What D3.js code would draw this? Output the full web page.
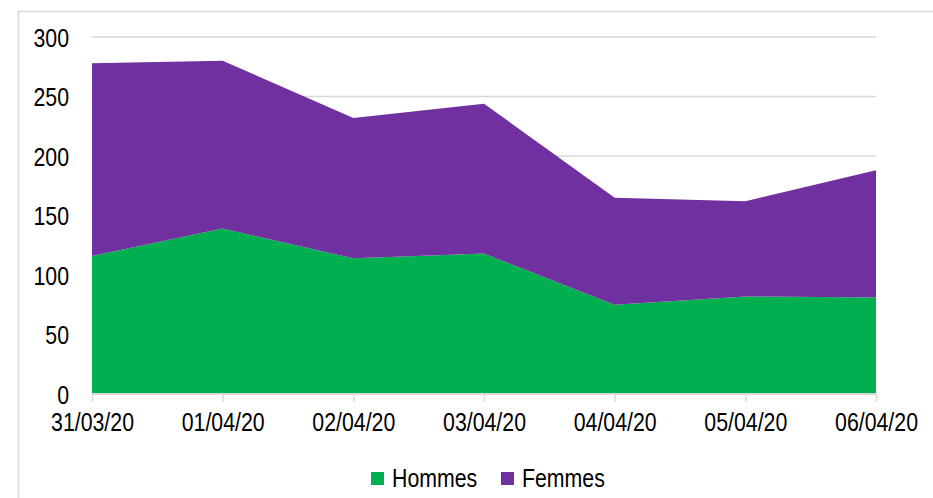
<!DOCTYPE html>
<html>
<head>
<meta charset="utf-8">
<script src="https://cdn.jsdelivr.net/npm/d3@7"></script>
<style>
  body { margin: 0; background: #fff; }
  text { font-family: "Liberation Sans", Arial, sans-serif; }
</style>
</head>
<body>
<div id="app"></div>
<script>
const width = 933;
const height = 498;

const dates = ["31/03/20", "01/04/20", "02/04/20", "03/04/20", "04/04/20", "05/04/20", "06/04/20"];
const hommes = [116, 139, 114, 118, 75, 82, 81];
const femmes = [162, 141, 118, 126, 90, 80, 107];
const seriesNames = ["Hommes", "Femmes"];
const colors = ["#00b050", "#7030a0"];
const yTicks = [0, 50, 100, 150, 200, 250, 300];

const rows = dates.map((d, i) => ({ date: d, Hommes: hommes[i], Femmes: femmes[i] }));

// narrow look of the original font
const narrow = "scale(0.82,1)";

const svg = d3
  .select("#app")
  .append("svg")
  .attr("width", width)
  .attr("height", height);

// chart frame
svg.append("rect")
  .attr("x", 18.5)
  .attr("y", 11.5)
  .attr("width", 1000)
  .attr("height", 1000)
  .attr("fill", "none")
  .attr("stroke", "#d9d9d9")
  .attr("stroke-width", 1.5);

const x = d3.scalePoint().domain(dates).range([92, 876]);
const y = d3.scaleLinear().domain([0, 300]).range([394, 37]);

// gridlines
svg.append("g")
  .selectAll("line")
  .data(yTicks.filter(t => t > 0))
  .join("line")
  .attr("x1", 92)
  .attr("x2", 876)
  .attr("y1", d => y(d))
  .attr("y2", d => y(d))
  .attr("stroke", "#d9d9d9")
  .attr("stroke-width", 1.5);

const stack = d3.stack().keys(seriesNames);
const layers = stack(rows);

const area = d3.area()
  .x(d => x(d.data.date))
  .y0(d => y(d[0]))
  .y1(d => y(d[1]));

svg.append("g")
  .selectAll("path")
  .data(layers)
  .join("path")
  .attr("d", area)
  .attr("fill", (d, i) => colors[i]);

// y axis
const yAxis = svg.append("g")
  .attr("transform", "translate(69,0)")
  .call(d3.axisLeft(y).tickValues(yTicks).tickSize(0).tickPadding(0));
yAxis.select(".domain").remove();
yAxis.selectAll("text")
  .attr("font-size", 26)
  .attr("fill", "#000")
  .attr("dy", "0.36em")
  .attr("transform", narrow);

// x axis
const xAxis = svg.append("g")
  .attr("transform", "translate(0,394)")
  .call(d3.axisBottom(x).tickSize(8).tickPadding(11));
xAxis.select(".domain")
  .attr("stroke", "#d9d9d9")
  .attr("stroke-width", 2)
  .attr("d", "M92,0H876");
xAxis.selectAll(".tick line")
  .attr("stroke", "#d9d9d9")
  .attr("stroke-width", 1.5);
xAxis.selectAll("text")
  .attr("font-size", 26)
  .attr("fill", "#000")
  .attr("transform", narrow);

// legend
const legendX = [371, 501];
const legend = svg.append("g");
seriesNames.forEach((name, i) => {
  legend.append("rect")
    .attr("x", legendX[i])
    .attr("y", 472)
    .attr("width", 13)
    .attr("height", 13)
    .attr("fill", colors[i]);
  legend.append("text")
    .attr("transform", `translate(${legendX[i] + 21},487) ${narrow}`)
    .attr("font-size", 26)
    .attr("fill", "#000")
    .text(name);
});
</script>
</body>
</html>
